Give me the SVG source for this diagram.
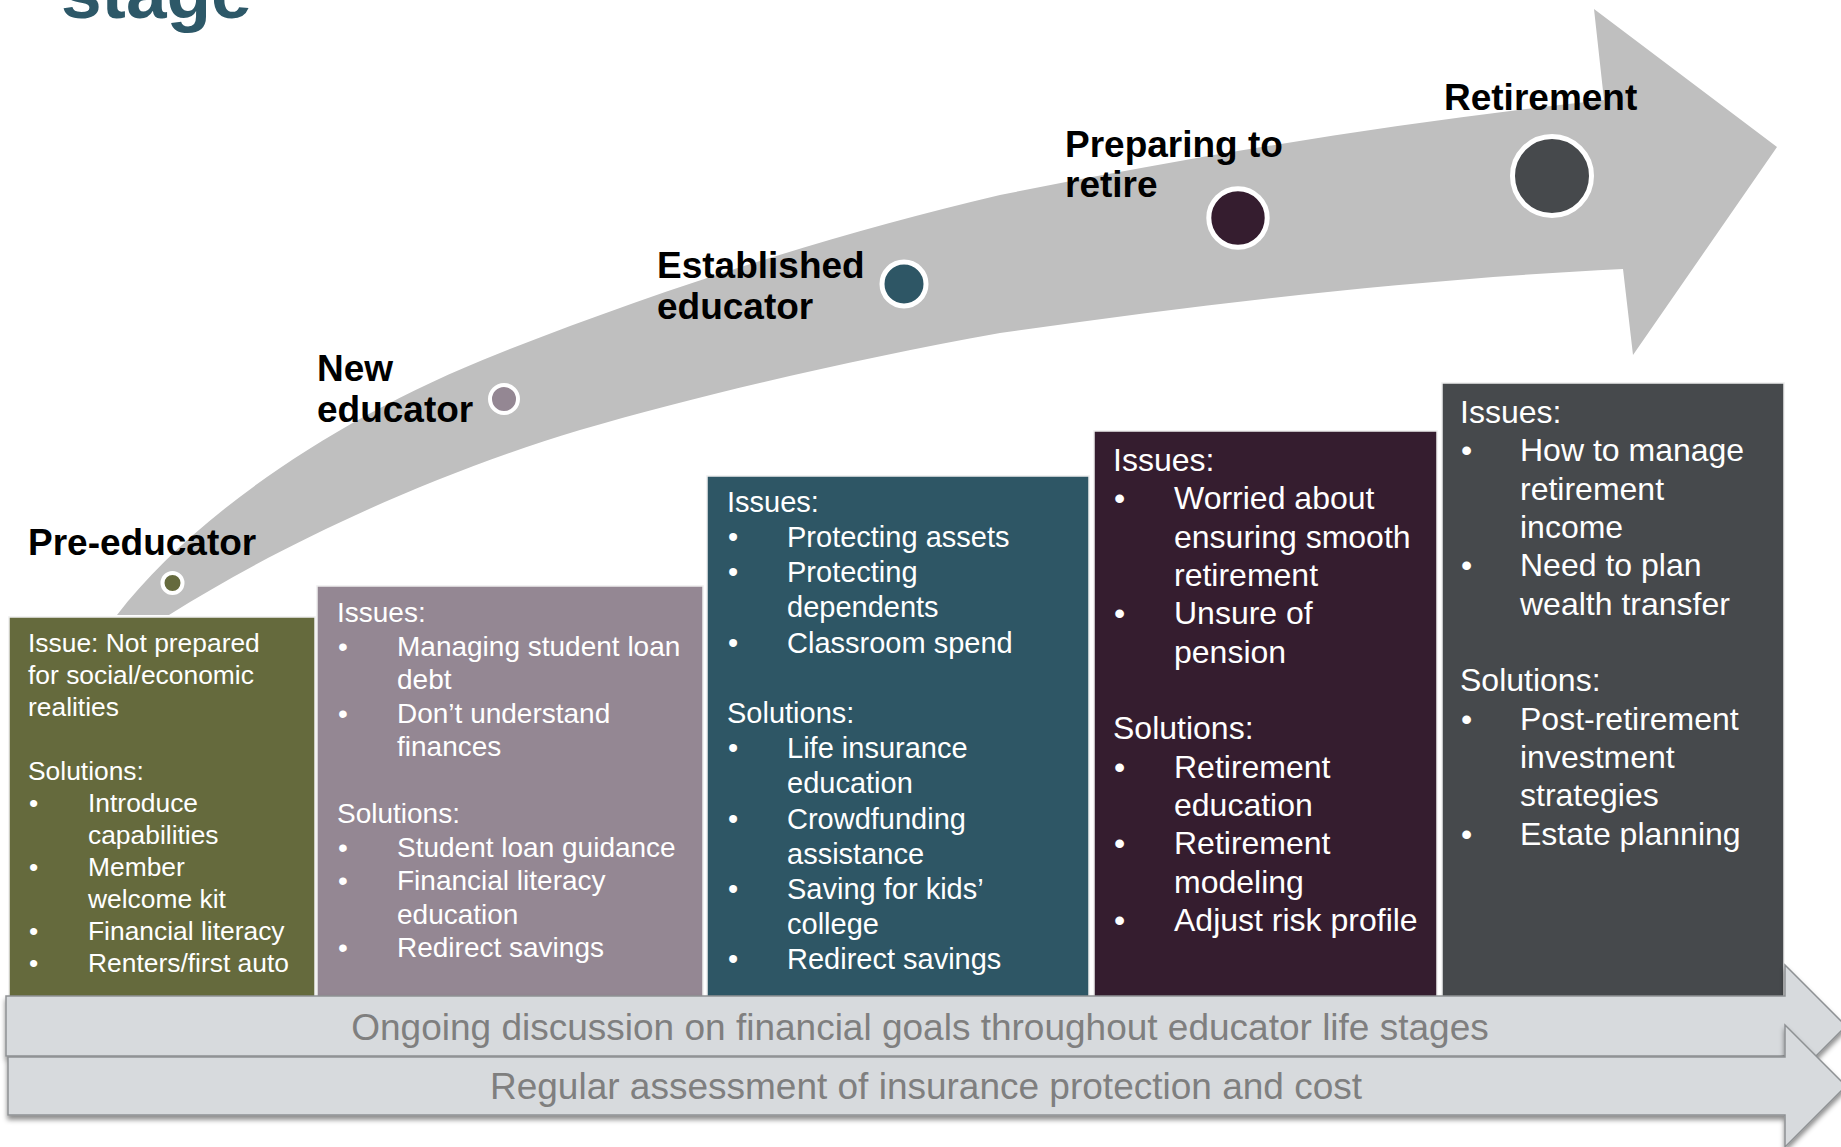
<svg xmlns="http://www.w3.org/2000/svg" width="1841" height="1147" viewBox="0 0 1841 1147">
<defs>
<style>
.lbl{font-family:"Liberation Sans",Arial,sans-serif;font-weight:bold;font-size:37px;fill:#000}
.t1{font-family:"Liberation Sans",Arial,sans-serif;font-size:26.4px;fill:#fff}
.t2{font-family:"Liberation Sans",Arial,sans-serif;font-size:28px;fill:#fff}
.t3{font-family:"Liberation Sans",Arial,sans-serif;font-size:29px;fill:#fff}
.t4{font-family:"Liberation Sans",Arial,sans-serif;font-size:32px;fill:#fff}
.bar{font-family:"Liberation Sans",Arial,sans-serif;font-size:37px;fill:#7f7f7f;text-anchor:middle}
.box{stroke:#eeeeee;stroke-width:1.5}
.dot{stroke:#fff}
.barshape{fill:#d7dadd;stroke:#8e9194;stroke-width:1.5}
</style>
<filter id="sh" x="-5%" y="-20%" width="110%" height="150%">
<feDropShadow dx="0" dy="4" stdDeviation="2.5" flood-color="#000" flood-opacity="0.45"/>
</filter>
</defs>
<rect width="1841" height="1147" fill="#fff"/>
<text x="61" y="18" font-family="Liberation Sans,Arial,sans-serif" font-weight="bold" font-size="73" fill="#2d5868">stage</text>

<g id="connectors">
<path id="timeline-arrow" fill="#bfbfbf" d="M117,615 C190,520 330,420 500,353 C660,290 830,235 1000,195 C1200,155 1400,122 1604,100 L1594,9 L1777,147 L1633,355 L1623,269 C1400,280 1200,305 1000,333 C850,360 700,395 580,430 C430,475 280,545 169,615 Z"/>
</g>

<g id="stage-pre-educator">
<circle class="dot" cx="172.5" cy="583" r="10" fill="#656a3d" stroke-width="4"/>
<text class="lbl" x="28" y="555">Pre-educator</text>
</g>
<g id="stage-new-educator">
<circle class="dot" cx="504" cy="399" r="14" fill="#948793" stroke-width="4"/>
<text class="lbl" x="317" y="381">New</text>
<text class="lbl" x="317" y="422">educator</text>
</g>
<g id="stage-established">
<circle class="dot" cx="904" cy="284" r="22" fill="#2e5665" stroke-width="5"/>
<text class="lbl" x="657" y="278">Established</text>
<text class="lbl" x="657" y="319">educator</text>
</g>
<g id="stage-preparing">
<circle class="dot" cx="1238" cy="218" r="29.2" fill="#351d2f" stroke-width="5"/>
<text class="lbl" x="1065" y="157">Preparing to</text>
<text class="lbl" x="1065" y="197">retire</text>
</g>
<g id="stage-retirement">
<circle class="dot" cx="1552" cy="176" r="39.5" fill="#46494c" stroke-width="5"/>
<text class="lbl" x="1444" y="110">Retirement</text>
</g>

<g id="box-pre-educator">
<rect class="box" x="9" y="617" width="306" height="381" fill="#656a3d"/>
<text class="t1" x="28" y="652">Issue: Not prepared</text>
<text class="t1" x="28" y="684">for social/economic</text>
<text class="t1" x="28" y="716">realities</text>
<text class="t1" x="28" y="780">Solutions:</text>
<text class="t1" x="29" y="812">•</text><text class="t1" x="88" y="812">Introduce</text>
<text class="t1" x="88" y="844">capabilities</text>
<text class="t1" x="29" y="876">•</text><text class="t1" x="88" y="876">Member</text>
<text class="t1" x="88" y="908">welcome kit</text>
<text class="t1" x="29" y="940">•</text><text class="t1" x="88" y="940">Financial literacy</text>
<text class="t1" x="29" y="972">•</text><text class="t1" x="88" y="972">Renters/first auto</text>
</g>

<g id="box-new-educator">
<rect class="box" x="317" y="586" width="386" height="412" fill="#948793"/>
<text class="t2" x="337" y="622">Issues:</text>
<text class="t2" x="338" y="656">•</text><text class="t2" x="397" y="656">Managing student loan</text>
<text class="t2" x="397" y="689">debt</text>
<text class="t2" x="338" y="723">•</text><text class="t2" x="397" y="723">Don’t understand</text>
<text class="t2" x="397" y="756">finances</text>
<text class="t2" x="337" y="823">Solutions:</text>
<text class="t2" x="338" y="857">•</text><text class="t2" x="397" y="857">Student loan guidance</text>
<text class="t2" x="338" y="890">•</text><text class="t2" x="397" y="890">Financial literacy</text>
<text class="t2" x="397" y="924">education</text>
<text class="t2" x="338" y="957">•</text><text class="t2" x="397" y="957">Redirect savings</text>
</g>

<g id="box-established">
<rect class="box" x="707" y="476" width="382" height="522" fill="#2e5665"/>
<text class="t3" x="727" y="512">Issues:</text>
<text class="t3" x="728" y="547">•</text><text class="t3" x="787" y="547">Protecting assets</text>
<text class="t3" x="728" y="582">•</text><text class="t3" x="787" y="582">Protecting</text>
<text class="t3" x="787" y="617">dependents</text>
<text class="t3" x="728" y="653">•</text><text class="t3" x="787" y="653">Classroom spend</text>
<text class="t3" x="727" y="723">Solutions:</text>
<text class="t3" x="728" y="758">•</text><text class="t3" x="787" y="758">Life insurance</text>
<text class="t3" x="787" y="793">education</text>
<text class="t3" x="728" y="829">•</text><text class="t3" x="787" y="829">Crowdfunding</text>
<text class="t3" x="787" y="864">assistance</text>
<text class="t3" x="728" y="899">•</text><text class="t3" x="787" y="899">Saving for kids’</text>
<text class="t3" x="787" y="934">college</text>
<text class="t3" x="728" y="969">•</text><text class="t3" x="787" y="969">Redirect savings</text>
</g>

<g id="box-preparing">
<rect class="box" x="1094" y="431" width="343" height="567" fill="#351d2f"/>
<text class="t4" x="1113" y="471">Issues:</text>
<text class="t4" x="1114" y="509">•</text><text class="t4" x="1174" y="509">Worried about</text>
<text class="t4" x="1174" y="548">ensuring smooth</text>
<text class="t4" x="1174" y="586">retirement</text>
<text class="t4" x="1114" y="624">•</text><text class="t4" x="1174" y="624">Unsure of</text>
<text class="t4" x="1174" y="663">pension</text>
<text class="t4" x="1113" y="739">Solutions:</text>
<text class="t4" x="1114" y="778">•</text><text class="t4" x="1174" y="778">Retirement</text>
<text class="t4" x="1174" y="816">education</text>
<text class="t4" x="1114" y="854">•</text><text class="t4" x="1174" y="854">Retirement</text>
<text class="t4" x="1174" y="893">modeling</text>
<text class="t4" x="1114" y="931">•</text><text class="t4" x="1174" y="931">Adjust risk profile</text>
</g>

<g id="box-retirement">
<rect class="box" x="1442" y="383" width="342" height="615" fill="#46494c"/>
<text class="t4" x="1460" y="423">Issues:</text>
<text class="t4" x="1461" y="461">•</text><text class="t4" x="1520" y="461">How to manage</text>
<text class="t4" x="1520" y="500">retirement</text>
<text class="t4" x="1520" y="538">income</text>
<text class="t4" x="1461" y="576">•</text><text class="t4" x="1520" y="576">Need to plan</text>
<text class="t4" x="1520" y="615">wealth transfer</text>
<text class="t4" x="1460" y="691">Solutions:</text>
<text class="t4" x="1461" y="730">•</text><text class="t4" x="1520" y="730">Post-retirement</text>
<text class="t4" x="1520" y="768">investment</text>
<text class="t4" x="1520" y="806">strategies</text>
<text class="t4" x="1461" y="845">•</text><text class="t4" x="1520" y="845">Estate planning</text>
</g>

<g id="bar-ongoing">
<path class="barshape" filter="url(#sh)" d="M6,996 L1785,996 L1785,965 L1846,1026 L1785,1087 L1785,1056 L6,1056 Z"/>
<text class="bar" x="920" y="1040">Ongoing discussion on financial goals throughout educator life stages</text>
</g>
<g id="bar-regular">
<path class="barshape" filter="url(#sh)" d="M8,1057 L1785,1057 L1785,1025 L1846,1086 L1785,1147 L1785,1115 L8,1115 Z"/>
<text class="bar" x="926" y="1099">Regular assessment of insurance protection and cost</text>
</g>
</svg>
